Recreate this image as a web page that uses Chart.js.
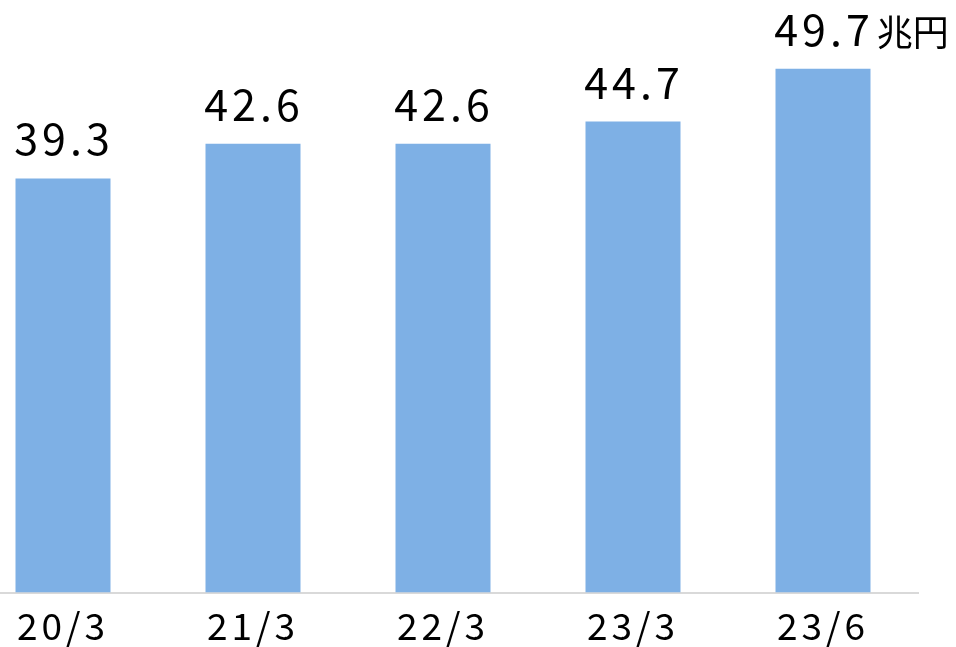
<!DOCTYPE html>
<html>
<head>
<meta charset="utf-8">
<script src="https://cdn.jsdelivr.net/npm/chart.js@4"></script>
<style>
  html, body { margin: 0; padding: 0; background: #fff; overflow: hidden; }
  .wrap { position: absolute; left: -32px; top: 0; width: 988px; height: 659px; }
</style>
</head>
<body>
<div class="wrap"><canvas id="barChart"></canvas></div>
<script>
// 期末時点の残高（兆円）
const periods = ['20/3', '21/3', '22/3', '23/3', '23/6'];
const balances = [39.3, 42.6, 42.6, 44.7, 49.7];
const unitLabel = '兆円';

const FONT = '"Noto Sans CJK JP", "DejaVu Sans", sans-serif';

// wider spacing like the original font
const spacing = {
  id: 'spacing',
  beforeDraw(chart) {
    chart.ctx.letterSpacing = '4px';
  }
};

// bar value labels, unit only on the last one
const valueLabels = {
  id: 'valueLabels',
  afterDatasetsDraw(chart) {
    const c = chart.ctx;
    const bars = chart.getDatasetMeta(0).data;
    c.save();
    c.fillStyle = '#000';
    c.textBaseline = 'alphabetic';
    bars.forEach((bar, i) => {
      const txt = balances[i].toFixed(1);
      c.font = '43px ' + FONT;
      c.letterSpacing = '4px';
      c.textAlign = 'center';
      const y = bar.y - 23;
      c.fillText(txt, bar.x + 1, y);
      if (i === bars.length - 1) {
        const w = c.measureText(txt).width;
        c.font = '36px ' + FONT;
        c.letterSpacing = '0px';
        c.textAlign = 'left';
        c.fillText(unitLabel, bar.x + w / 2 + 4, y);
      }
    });
    c.restore();
  }
};

const ctx = document.getElementById('barChart');

new Chart(ctx, {
  type: 'bar',
  data: {
    labels: periods,
    datasets: [{
      data: balances,
      backgroundColor: '#7eb0e5',
      barPercentage: 0.5,
      categoryPercentage: 1.0
    }]
  },
  options: {
    responsive: true,
    maintainAspectRatio: false,
    animation: false,
    layout: { padding: { top: 13, right: 38, bottom: 8, left: 0 } },
    plugins: {
      legend: { display: false },
      tooltip: { enabled: false }
    },
    scales: {
      x: {
        grid: { display: false },
        border: { display: true, color: '#d9d9d9', width: 2 },
        ticks: { color: '#000', font: { family: FONT, size: 37 }, padding: 3 }
      },
      y: {
        display: false,
        min: 0,
        max: 55
      }
    }
  },
  plugins: [spacing, valueLabels]
});
</script>
</body>
</html>
